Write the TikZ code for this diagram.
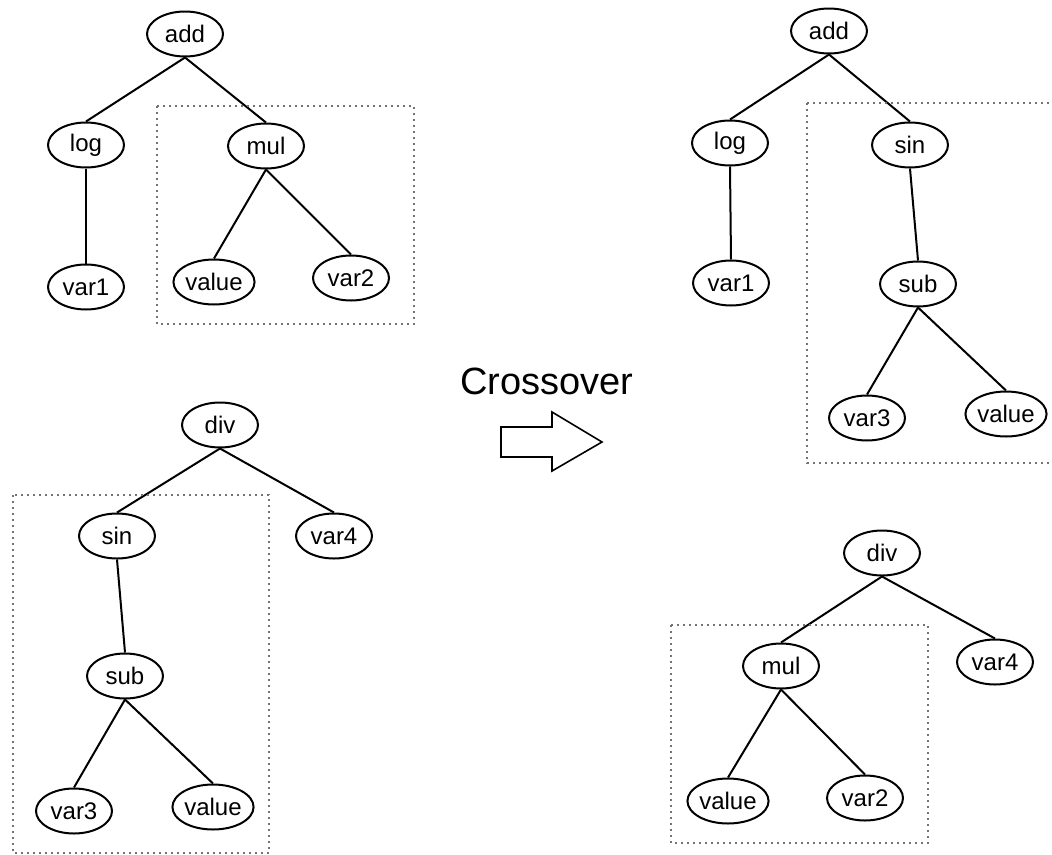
\documentclass[tikz,border=0pt]{standalone}
\usepackage{fontspec}
\setmainfont{Liberation Sans}
\usetikzlibrary{shapes.geometric}
\begin{document}
\begin{tikzpicture}[x=1pt,y=-1pt,
  treenode/.style={draw, ellipse, line width=2pt, inner sep=0pt,
    minimum width=76pt, minimum height=45pt,
    font=\fontsize{24}{28}\selectfont},
  edge/.style={line width=2pt},
  subtree/.style={draw=black!55, line width=2pt, dash pattern=on 2pt off 4pt}]
\useasboundingbox (0,0) rectangle (1052,854);

% first parent: add(log(var1), mul(value, var2))
\node[treenode] (a1) at (185,34) {add};
\node[treenode] (a1log) at (86,145) {log};
\node[treenode] (a1var1) at (86,287) {var1};
\node[treenode] (a1mul) at (266,146) {mul};
\node[treenode] (a1value) at (214,282) {value};
\node[treenode] (a1var2) at (351,278) {var2};
\draw[edge] (a1.south) -- (a1log.north);
\draw[edge] (a1.south) -- (a1mul.north);
\draw[edge] (a1log.south) -- (a1var1.north);
\draw[edge] (a1mul.south) -- (a1value.north);
\draw[edge] (a1mul.south) -- (a1var2.north);
\draw[subtree] (157,106) rectangle (414,324);

% second parent: div(sin(sub(var3, value)), var4)
\node[treenode] (b1) at (220,425) {div};
\node[treenode] (b1sin) at (117,536) {sin};
\node[treenode] (b1var4) at (334,536) {var4};
\node[treenode] (b1sub) at (125,676) {sub};
\node[treenode] (b1var3) at (74,811) {var3};
\node[treenode] (b1value) at (213,807) {value};
\draw[edge] (b1.south) -- (b1sin.north);
\draw[edge] (b1.south) -- (b1var4.north);
\draw[edge] (b1sin.south) -- (b1sub.north);
\draw[edge] (b1sub.south) -- (b1var3.north);
\draw[edge] (b1sub.south) -- (b1value.north);
\draw[subtree] (13,495) rectangle (269,853);

% operator label and block arrow
\node[font=\fontsize{38}{44}\selectfont, inner sep=0pt] (xlabel) at (547,381) {Crossover};
\draw[line width=1.6pt, line join=miter]
  (501,427) -- (552,427) -- (552,412) -- (602,442) -- (552,471) -- (552,457) -- (501,457) -- cycle;

% first child: add(log(var1), sin(sub(var3, value)))
\node[treenode] (a2) at (829,31) {add};
\node[treenode] (a2log) at (730,143) {log};
\node[treenode] (a2var1) at (731,283) {var1};
\node[treenode] (a2sin) at (910,145) {sin};
\node[treenode] (a2sub) at (918,284) {sub};
\node[treenode] (a2var3) at (867,418) {var3};
\node[treenode] (a2value) at (1006,414) {value};
\draw[edge] (a2.south) -- (a2log.north);
\draw[edge] (a2.south) -- (a2sin.north);
\draw[edge] (a2log.south) -- (a2var1.north);
\draw[edge] (a2sin.south) -- (a2sub.north);
\draw[edge] (a2sub.south) -- (a2var3.north);
\draw[edge] (a2sub.south) -- (a2value.north);
\draw[subtree] (807,103) -- (1051,103) (807,103) -- (807,463) -- (1051,463);

% second child: div(mul(value, var2), var4)
\node[treenode] (b2) at (882,553) {div};
\node[treenode] (b2mul) at (781,666) {mul};
\node[treenode] (b2var4) at (995,662) {var4};
\node[treenode] (b2value) at (728,801) {value};
\node[treenode] (b2var2) at (865,798) {var2};
\draw[edge] (b2.south) -- (b2mul.north);
\draw[edge] (b2.south) -- (b2var4.north);
\draw[edge] (b2mul.south) -- (b2value.north);
\draw[edge] (b2mul.south) -- (b2var2.north);
\draw[subtree] (671,625) rectangle (928,843);
\end{tikzpicture}
\end{document}
